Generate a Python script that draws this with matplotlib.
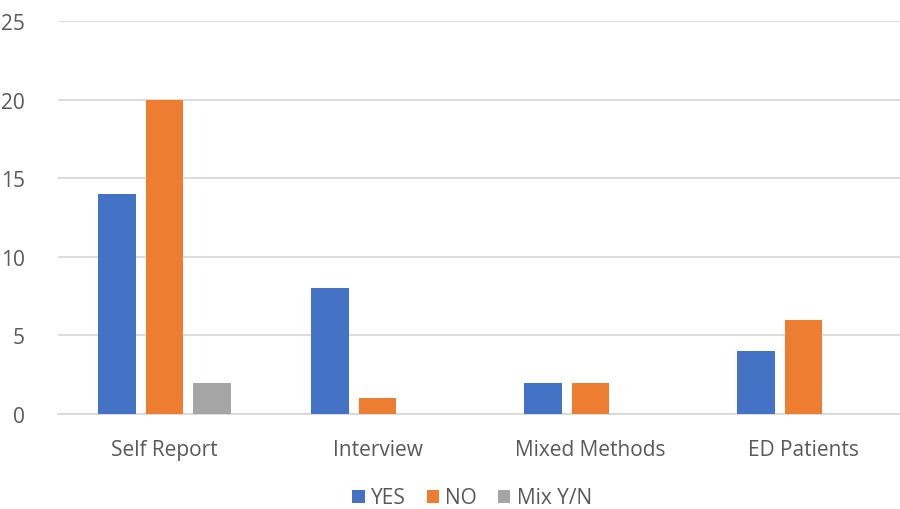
import matplotlib.pyplot as plt
import numpy as np

plt.rcParams['font.family'] = ['Open Sans', 'DejaVu Sans']

categorias = ["Self Report", "Interview", "Mixed Methods", "ED Patients"]
yes = [14, 8, 2, 4]
no = [20, 1, 2, 6]
mix = [2, 0, 0, 0]

series = [("YES", yes, "#4472C4"), ("NO", no, "#ED7D31"), ("Mix Y/N", mix, "#A5A5A5")]

fig = plt.figure(figsize=(9, 5.1), dpi=100)
ax = fig.add_axes([58/900, 95/510, 852/900, 393/510])

x = np.arange(len(categorias))
largura = 0.174
passo = 0.223
for i, (nome, vals, cor) in enumerate(series):
    ax.bar(x + (i - 1) * passo, vals, width=largura, color=cor, label=nome, zorder=3)

ax.set_xlim(-0.5, len(categorias) - 0.5)
ax.set_ylim(0, 25)
ax.set_yticks(range(0, 26, 5))
ax.set_xticks(x)
ax.set_xticklabels(categorias)
ax.grid(axis="y", color="#d9d9d9", linewidth=1.3, zorder=0)
for lado in ["top", "right", "left"]:
    ax.spines[lado].set_visible(False)
ax.spines["bottom"].set_color("#d9d9d9")
ax.spines["bottom"].set_linewidth(1.3)
ax.tick_params(axis="both", length=0, labelsize=15, labelcolor="#595959")
ax.tick_params(axis="x", pad=18)
ax.tick_params(axis="y", pad=24)

fig.legend(loc="center", bbox_to_anchor=(472/900, 1 - 499/510), ncol=3, frameon=False,
           fontsize=15, labelcolor="#595959", handlelength=0.6, handleheight=0.6,
           handletextpad=0.3, columnspacing=1.0)

plt.savefig("out.png")
